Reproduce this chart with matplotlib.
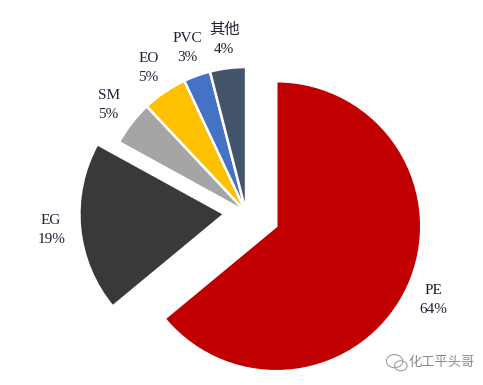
import matplotlib.pyplot as plt
from matplotlib.patches import Circle

# Data
labels = ["PE", "EG", "SM", "EO", "PVC", "其他"]
shares = [64, 19, 5, 5, 3, 4]
colors = ["#C00000", "#3A3838", "#A5A5A5", "#FFC000", "#4472C4", "#44546A"]
explode = [0.23, 0.15, 0, 0, 0, 0]

plt.rcParams["font.family"] = ["Liberation Serif", "Noto Sans CJK SC", "DejaVu Sans"]

fig = plt.figure(figsize=(4.83, 3.85), dpi=100)
ax = fig.add_axes([0, 0, 1, 1])

ax.pie(
    shares,
    labels=[f"{lab}\n{val}%" for lab, val in zip(labels, shares)],
    colors=colors,
    startangle=90,
    counterclock=False,
    explode=explode,
    labeldistance=1.2,
    wedgeprops=dict(edgecolor="white", linewidth=1.8),
    textprops=dict(ha="center", va="center", fontsize=11,
                   color="#1E2436", linespacing=1.6),
)

ax.set_aspect("equal")
ax.set_xlim(-1.697, 1.634)
ax.set_ylim(-1.193, 1.462)
ax.axis("off")

# watermark
fig.text(0.845, 0.058, "化工平头哥", fontsize=9.5, color="#8A8A8A",
         ha="left", va="center", family=["Noto Sans CJK SC"])
fig.patches.append(Circle((0.817, 0.062), 0.017, transform=fig.transFigure,
                          fill=False, edgecolor="#A0A0A0", linewidth=0.8))
fig.patches.append(Circle((0.830, 0.050), 0.013, transform=fig.transFigure,
                          fill=False, edgecolor="#A0A0A0", linewidth=0.8))

fig.savefig("out.png", dpi=100, facecolor="white")
